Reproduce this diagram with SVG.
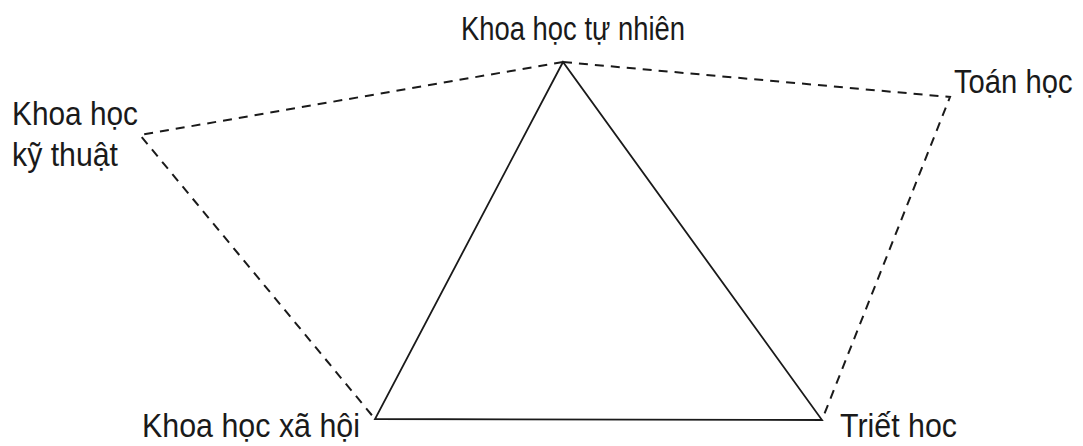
<svg xmlns="http://www.w3.org/2000/svg" width="1083" height="446" viewBox="0 0 1083 446">
<style>
.lbl{font-family:"Liberation Sans",Arial,sans-serif;font-size:33px;fill:#1a1a1a}
.solid{fill:none;stroke:#1a1a1a;stroke-width:1.8}
.dash{fill:none;stroke:#1a1a1a;stroke-width:2;stroke-dasharray:9 7}
</style>
<rect width="1083" height="446" fill="#fff"/>
<g id="connectors">
<polygon class="solid" points="563,62 375,419 822,420"/>
<polyline class="dash" points="563,62 140,135 375,419"/>
<polyline class="dash" points="563,62 950,97 822,420"/>
</g>
<g id="node-tunhien"><text class="lbl" x="461" y="40" textLength="224" lengthAdjust="spacingAndGlyphs">Khoa học tự nhiên</text></g>
<g id="node-kythuat"><text class="lbl" x="12" y="125" textLength="126" lengthAdjust="spacingAndGlyphs">Khoa học</text><text class="lbl" x="12" y="166" textLength="106" lengthAdjust="spacingAndGlyphs">kỹ thuật</text></g>
<g id="node-toan"><text class="lbl" transform="translate(954,93) scale(0.885,1)" x="0" y="0">Toán học</text></g>
<g id="node-xahoi"><text class="lbl" x="142" y="437" textLength="218" lengthAdjust="spacingAndGlyphs">Khoa học xã hội</text></g>
<g id="node-triet"><text class="lbl" x="840" y="437" textLength="117" lengthAdjust="spacingAndGlyphs">Triết hoc</text></g>
</svg>
